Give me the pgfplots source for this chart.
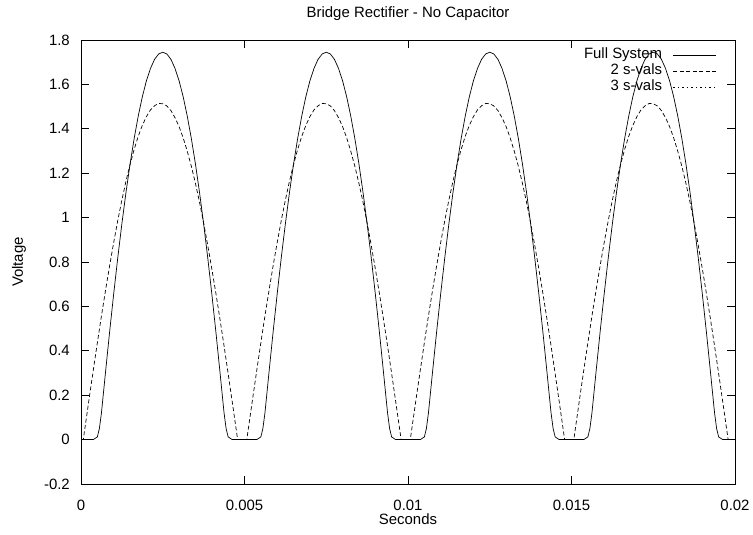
\documentclass[border=0pt]{standalone}
\usepackage{fontspec}
\setmainfont{Liberation Sans}
\usepackage{pgfplots}
\pgfplotsset{compat=1.18}

% Output voltage of the full bridge model (solid curve)
\pgfplotstableread{
t v
0 0
0.000375 0
0.0005 0.012
0.0005625 0.05
0.000625 0.12
0.00075 0.304
0.000875 0.485
0.001 0.657
0.001125 0.820
0.00125 0.972
0.001375 1.113
0.0015 1.241
0.001625 1.356
0.00175 1.457
0.001875 1.544
0.002 1.616
0.002125 1.672
0.00225 1.713
0.002375 1.737
0.0025 1.745
0.002625 1.737
0.00275 1.713
0.002875 1.672
0.003 1.616
0.003125 1.544
0.00325 1.457
0.003375 1.356
0.0035 1.241
0.003625 1.113
0.00375 0.972
0.003875 0.820
0.004 0.657
0.004125 0.485
0.00425 0.304
0.004375 0.12
0.0044375 0.05
0.0045 0.012
0.004625 0
0.005375 0
0.0055 0.012
0.0055625 0.05
0.005625 0.12
0.00575 0.304
0.005875 0.485
0.006 0.657
0.006125 0.820
0.00625 0.972
0.006375 1.113
0.0065 1.241
0.006625 1.356
0.00675 1.457
0.006875 1.544
0.007 1.616
0.007125 1.672
0.00725 1.713
0.007375 1.737
0.0075 1.745
0.007625 1.737
0.00775 1.713
0.007875 1.672
0.008 1.616
0.008125 1.544
0.00825 1.457
0.008375 1.356
0.0085 1.241
0.008625 1.113
0.00875 0.972
0.008875 0.820
0.009 0.657
0.009125 0.485
0.00925 0.304
0.009375 0.12
0.0094375 0.05
0.0095 0.012
0.009625 0
0.010375 0
0.0105 0.012
0.0105625 0.05
0.010625 0.12
0.01075 0.304
0.010875 0.485
0.011 0.657
0.011125 0.820
0.01125 0.972
0.011375 1.113
0.0115 1.241
0.011625 1.356
0.01175 1.457
0.011875 1.544
0.012 1.616
0.012125 1.672
0.01225 1.713
0.012375 1.737
0.0125 1.745
0.012625 1.737
0.01275 1.713
0.012875 1.672
0.013 1.616
0.013125 1.544
0.01325 1.457
0.013375 1.356
0.0135 1.241
0.013625 1.113
0.01375 0.972
0.013875 0.820
0.014 0.657
0.014125 0.485
0.01425 0.304
0.014375 0.12
0.0144375 0.05
0.0145 0.012
0.014625 0
0.015375 0
0.0155 0.012
0.0155625 0.05
0.015625 0.12
0.01575 0.304
0.015875 0.485
0.016 0.657
0.016125 0.820
0.01625 0.972
0.016375 1.113
0.0165 1.241
0.016625 1.356
0.01675 1.457
0.016875 1.544
0.017 1.616
0.017125 1.672
0.01725 1.713
0.017375 1.737
0.0175 1.745
0.017625 1.737
0.01775 1.713
0.017875 1.672
0.018 1.616
0.018125 1.544
0.01825 1.457
0.018375 1.356
0.0185 1.241
0.018625 1.113
0.01875 0.972
0.018875 0.820
0.019 0.657
0.019125 0.485
0.01925 0.304
0.019375 0.12
0.0194375 0.05
0.0195 0.012
0.019625 0
0.02 0
}\fullsystem

% Reduced model with two singular values (dashed curve)
\pgfplotstableread{
t v
0 0
0.00007 0
0.000125 0.057
0.00025 0.186
0.000375 0.312
0.0005 0.436
0.000625 0.557
0.00075 0.672
0.000875 0.783
0.001 0.888
0.001125 0.987
0.00125 1.079
0.001375 1.164
0.0015 1.239
0.001625 1.307
0.00175 1.366
0.001875 1.415
0.002 1.455
0.002125 1.485
0.00225 1.504
0.002375 1.514
0.0025 1.513
0.002625 1.503
0.00275 1.482
0.002875 1.450
0.003 1.410
0.003125 1.359
0.00325 1.299
0.003375 1.231
0.0035 1.154
0.003625 1.069
0.00375 0.976
0.003875 0.876
0.004 0.770
0.004125 0.659
0.00425 0.542
0.004375 0.422
0.0045 0.297
0.004625 0.170
0.00475 0.041
0.00479 0
0.00507 0
0.005125 0.057
0.00525 0.186
0.005375 0.312
0.0055 0.436
0.005625 0.557
0.00575 0.672
0.005875 0.783
0.006 0.888
0.006125 0.987
0.00625 1.079
0.006375 1.164
0.0065 1.239
0.006625 1.307
0.00675 1.366
0.006875 1.415
0.007 1.455
0.007125 1.485
0.00725 1.504
0.007375 1.514
0.0075 1.513
0.007625 1.503
0.00775 1.482
0.007875 1.450
0.008 1.410
0.008125 1.359
0.00825 1.299
0.008375 1.231
0.0085 1.154
0.008625 1.069
0.00875 0.976
0.008875 0.876
0.009 0.770
0.009125 0.659
0.00925 0.542
0.009375 0.422
0.0095 0.297
0.009625 0.170
0.00975 0.041
0.00979 0
0.01007 0
0.010125 0.057
0.01025 0.186
0.010375 0.312
0.0105 0.436
0.010625 0.557
0.01075 0.672
0.010875 0.783
0.011 0.888
0.011125 0.987
0.01125 1.079
0.011375 1.164
0.0115 1.239
0.011625 1.307
0.01175 1.366
0.011875 1.415
0.012 1.455
0.012125 1.485
0.01225 1.504
0.012375 1.514
0.0125 1.513
0.012625 1.503
0.01275 1.482
0.012875 1.450
0.013 1.410
0.013125 1.359
0.01325 1.299
0.013375 1.231
0.0135 1.154
0.013625 1.069
0.01375 0.976
0.013875 0.876
0.014 0.770
0.014125 0.659
0.01425 0.542
0.014375 0.422
0.0145 0.297
0.014625 0.170
0.01475 0.041
0.01479 0
0.01507 0
0.015125 0.057
0.01525 0.186
0.015375 0.312
0.0155 0.436
0.015625 0.557
0.01575 0.672
0.015875 0.783
0.016 0.888
0.016125 0.987
0.01625 1.079
0.016375 1.164
0.0165 1.239
0.016625 1.307
0.01675 1.366
0.016875 1.415
0.017 1.455
0.017125 1.485
0.01725 1.504
0.017375 1.514
0.0175 1.513
0.017625 1.503
0.01775 1.482
0.017875 1.450
0.018 1.410
0.018125 1.359
0.01825 1.299
0.018375 1.231
0.0185 1.154
0.018625 1.069
0.01875 0.976
0.018875 0.876
0.019 0.770
0.019125 0.659
0.01925 0.542
0.019375 0.422
0.0195 0.297
0.019625 0.170
0.01975 0.041
0.01979 0
0.02 0
}\twosvals

\begin{document}
\begin{tikzpicture}
\begin{axis}[
  scale only axis,
  width=654bp, height=444bp,
  xmin=0, xmax=0.02, ymin=-0.2, ymax=1.8,
  font=\fontsize{15}{17}\selectfont,
  /pgf/number format/assume math mode=true,
  axis line style={line width=0.7bp},
  tick align=inside,
  major tick length=8bp,
  tick style={line width=0.7bp, black},
  scaled x ticks=false, scaled y ticks=false,
  xtick={0,0.005,0.01,0.015,0.02},
  xticklabels={0,0.005,0.01,0.015,0.02},
  ytick={-0.2,0,0.2,0.4,0.6,0.8,1,1.2,1.4,1.6,1.8},
  yticklabels={-0.2,0,0.2,0.4,0.6,0.8,1,1.2,1.4,1.6,1.8},
  xticklabel style={anchor=base, inner sep=0pt, yshift=-26bp},
  yticklabel style={anchor=east, inner sep=0pt, xshift=-11bp},
  title={Bridge Rectifier - No Capacitor},
  title style={at={([yshift=17bp]axis description cs:0.5,1)}, anchor=base, inner sep=0pt},
  xlabel={Seconds},
  xlabel style={at={([yshift=-40bp]axis description cs:0.5,0)}, anchor=base, inner sep=0pt},
  ylabel={Voltage},
  ylabel style={at={([xshift=-58bp]axis description cs:0,0.5)}, rotate=0, anchor=base, inner sep=0pt},
  legend style={draw=none, fill=none, at={(axis description cs:1,1)}, anchor=north east,
    xshift=-18bp, yshift=-7bp, inner sep=0pt, row sep=0pt, column sep=11bp,
    nodes={inner sep=0pt, text height=11bp, text depth=5bp}},
  legend cell align=right,
  legend plot pos=right,
  legend image code/.code={\draw[#1] (0bp,0bp) -- (43bp,0bp);},
]
\addplot[black, line width=0.7bp] table[x=t, y=v] {\fullsystem};
\addlegendentry{Full System}
\addplot[black, line width=0.7bp, dash pattern=on 4bp off 2.5bp] table[x=t, y=v] {\twosvals};
\addlegendentry{2 s-vals}
\addlegendimage{black, line width=0.7bp, dash pattern=on 1.5bp off 3bp}
\addlegendentry{3 s-vals}
\coordinate (sw) at (rel axis cs:0,0);
\end{axis}
\pgfresetboundingbox
\path[use as bounding box] (sw) ++(-81bp,-51bp) rectangle ++(753bp,535bp);
\end{tikzpicture}
\end{document}
